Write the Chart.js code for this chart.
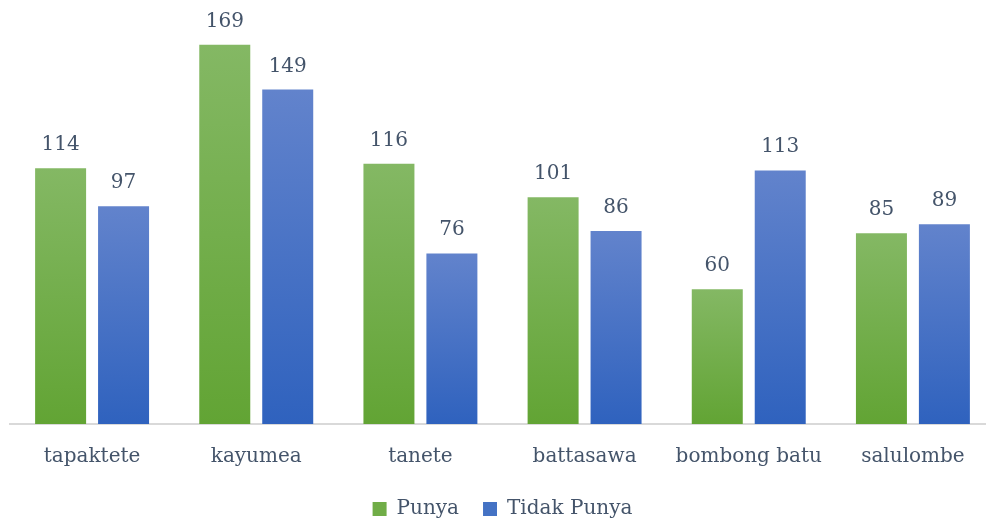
<!DOCTYPE html>
<html>
<head>
<meta charset="utf-8">
<title>Punya / Tidak Punya</title>
<script src="https://cdn.jsdelivr.net/npm/chart.js@4"></script>
<style>
    html, body { margin: 0; padding: 0; background: #fff; overflow: hidden; }
    #wrap { width: 1012px; height: 521px; }
</style>
</head>
<body>
<div id="wrap"><canvas id="villageChart" width="1012" height="521"></canvas></div>
<script>
const villages = ['tapaktete', 'kayumea', 'tanete', 'battasawa', 'bombong batu', 'salulombe'];
const punya = [114, 169, 116, 101, 60, 85];
const tidakPunya = [97, 149, 76, 86, 113, 89];
const seriesNames = ['Punya', 'Tidak Punya'];

const textColor = '#44546A';
const fontFamily = '"DejaVu Serif", serif';

// each bar gets its own top-to-bottom gradient
function barGradient(top, bottom) {
    return (ctx) => {
        const chart = ctx.chart;
        const y = chart.scales.y;
        if (!y || ctx.type !== 'data') return bottom;
        const v = ctx.raw;
        const y0 = y.getPixelForValue(v);
        const y1 = y.getPixelForValue(0);
        const g = chart.ctx.createLinearGradient(0, y0, 0, y1);
        g.addColorStop(0, top);
        g.addColorStop(1, bottom);
        return g;
    };
}

// value labels above the bars
const valueLabels = {
    id: 'valueLabels',
    afterDatasetsDraw(chart) {
        const ctx = chart.ctx;
        ctx.save();
        ctx.font = '20px ' + fontFamily;
        ctx.fillStyle = textColor;
        ctx.textAlign = 'center';
        ctx.textBaseline = 'alphabetic';
        chart.data.datasets.forEach((ds, i) => {
            chart.getDatasetMeta(i).data.forEach((bar, j) => {
                ctx.fillText(String(ds.data[j]), bar.x, bar.y - 18);
            });
        });
        ctx.restore();
    }
};

new Chart(document.getElementById('villageChart'), {
    type: 'bar',
    data: {
        labels: villages,
        datasets: [{
            label: seriesNames[0],
            data: punya,
            backgroundColor: barGradient('#84B864', '#62A434'),
            categoryPercentage: 0.767,
            barPercentage: 0.81
        }, {
            label: seriesNames[1],
            data: tidakPunya,
            backgroundColor: barGradient('#6283CC', '#2F62BE'),
            categoryPercentage: 0.767,
            barPercentage: 0.81
        }]
    },
    options: {
        responsive: false,
        devicePixelRatio: 1,
        animation: false,
        layout: { padding: { top: 20, left: 10, right: 17, bottom: -8 } },
        scales: {
            y: { display: false, min: 0, max: 180 },
            x: {
                grid: { display: false, drawTicks: false },
                border: { display: true, color: '#D9D9D9', width: 2 },
                ticks: {
                    color: textColor,
                    font: { family: fontFamily, size: 20 },
                    padding: 21
                },
                afterFit(scale) { scale.height = 51; }
            }
        },
        plugins: {
            tooltip: { enabled: false },
            legend: {
                position: 'bottom',
                labels: {
                    color: textColor,
                    font: { family: fontFamily, size: 20 },
                    boxWidth: 14,
                    boxHeight: 14,
                    padding: 24,
                    generateLabels(chart) {
                        return chart.data.datasets.map((ds, i) => ({
                            text: ds.label,
                            fillStyle: i === 0 ? '#70AD47' : '#4472C4',
                            strokeStyle: 'rgba(0,0,0,0)',
                            lineWidth: 0,
                            fontColor: textColor,
                            datasetIndex: i
                        }));
                    }
                }
            }
        }
    },
    plugins: [valueLabels]
});
</script>
</body>
</html>
